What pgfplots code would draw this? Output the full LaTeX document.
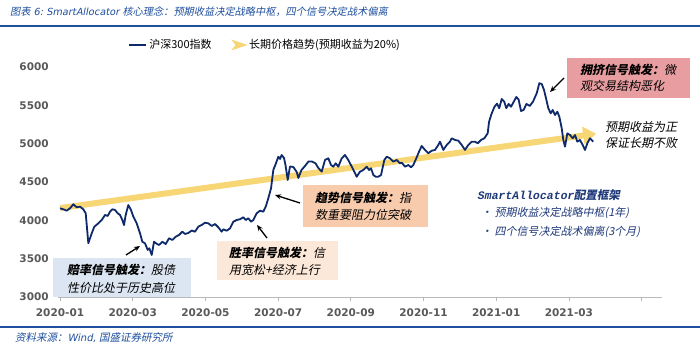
\documentclass[border=0pt]{standalone}
\usepackage{fontspec}
\usepackage{pgfplots}
\pgfplotsset{compat=1.18}
\usetikzlibrary{arrows.meta}
\newfontfamily\cjk{Noto Sans CJK SC}
\newfontfamily\cjkit{Noto Sans CJK SC}[FakeSlant=0.2]
\newfontfamily\tickfont{DejaVu Sans}
\newfontfamily\latit{DejaVu Sans}[FakeSlant=0.2]
\newfontfamily\monoit{Liberation Mono}[FakeSlant=0.2]
\definecolor{navy}{HTML}{0E2A6B}
\definecolor{trend}{HTML}{F7D676}
\definecolor{titleblue}{HTML}{1E4F9E}
\definecolor{tickgray}{HTML}{595959}
\definecolor{boxa}{HTML}{DCE6F2}
\definecolor{boxb}{HTML}{FCE8D8}
\definecolor{boxc}{HTML}{F8CBAD}
\definecolor{boxd}{HTML}{E89EA0}
\definecolor{framecol}{HTML}{1F3A7A}
\pgfplotstableread{
m v
0 4157
0.091 4144
0.184 4126
0.275 4157
0.366 4209
0.459 4170
0.550 4178
0.641 4144
0.707 4092
0.779 3700
0.872 3831
0.944 3917
1.054 3961
1.147 4004
1.238 4070
1.312 4057
1.376 4113
1.439 4144
1.513 4135
1.587 4092
1.651 4070
1.714 4004
1.761 3939
1.807 4070
1.879 4200
1.953 4135
2.017 4048
2.110 3961
2.201 3831
2.264 3721
2.338 3700
2.413 3613
2.457 3635
2.523 3548
2.586 3721
2.641 3700
2.724 3678
2.814 3721
2.908 3691
2.999 3766
3.089 3744
3.183 3787
3.274 3809
3.365 3852
3.439 3822
3.530 3835
3.623 3867
3.714 3852
3.805 3917
3.898 3939
3.989 3969
4.080 3961
4.173 3926
4.264 3952
4.355 3909
4.448 3852
4.492 3883
4.586 3865
4.677 3896
4.768 3982
4.861 4004
4.952 4014
5.043 4040
5.109 4004
5.180 4027
5.254 3982
5.318 4004
5.411 4092
5.502 4126
5.593 4113
5.659 4178
5.731 4288
5.805 4418
5.868 4657
5.934 4735
6.006 4830
6.052 4800
6.097 4852
6.162 4813
6.203 4722
6.264 4526
6.327 4702
6.418 4696
6.512 4631
6.556 4552
6.644 4657
6.740 4709
6.836 4768
6.925 4768
7.029 4744
7.106 4683
7.199 4635
7.290 4787
7.381 4809
7.455 4722
7.519 4700
7.585 4744
7.656 4700
7.750 4809
7.840 4852
7.931 4787
8.025 4700
8.116 4614
8.162 4569
8.253 4635
8.344 4657
8.437 4700
8.501 4657
8.556 4679
8.619 4591
8.685 4569
8.757 4569
8.831 4591
8.922 4787
8.988 4830
9.078 4809
9.169 4765
9.263 4787
9.353 4744
9.400 4752
9.491 4700
9.582 4722
9.656 4692
9.719 4722
9.813 4822
9.876 4895
9.950 4970
10.041 4918
10.132 4875
10.226 4908
10.316 4918
10.407 4983
10.454 5026
10.545 4918
10.638 4983
10.729 5026
10.776 5070
10.867 5048
10.957 5039
11.051 4983
11.142 4918
11.233 4983
11.326 5026
11.417 5026
11.491 5005
11.582 5048
11.673 5070
11.766 5135
11.802 5283
11.870 5387
11.953 5482
12.022 5522
12.083 5462
12.151 5583
12.220 5548
12.278 5462
12.341 5518
12.407 5482
12.484 5548
12.553 5609
12.616 5576
12.682 5426
12.752 5439
12.832 5518
12.923 5492
13.012 5548
13.114 5657
13.186 5788
13.252 5779
13.315 5700
13.370 5592
13.433 5462
13.499 5396
13.554 5439
13.618 5374
13.681 5417
13.736 5352
13.802 5201
13.846 5048
13.893 4961
13.956 5135
14.030 5113
14.105 5070
14.168 5113
14.231 5026
14.305 5048
14.380 4983
14.443 4918
14.506 5005
14.580 5070
14.671 5026
}\hs
\begin{document}
\begin{tikzpicture}
\fill[white] (0pt,0pt) rectangle (700pt,347pt);
\begin{axis}[
  at={(58.2pt,50pt)}, anchor=south west, scale only axis,
  width=603.4pt, height=230pt,
  xmin=-0.05, xmax=16.55, ymin=3000, ymax=6000,
  axis x line*=bottom, axis y line*=left,
  x axis line style={draw=gray!55, line width=0.8pt},
  y axis line style={draw=none},
  ytick={3000,3500,...,6000},
  xtick={0,2,...,16},
  xticklabels={2020-01,2020-03,2020-05,2020-07,2020-09,2020-11,2021-01,2021-03,},
  tick align=outside, major tick length=4pt,
  xtick style={draw=gray!55, line width=0.8pt},
  ytick style={draw=none},
  /pgf/number format/assume math mode=true,
  /pgf/number format/set thousands separator={},
  xticklabel style={font=\tickfont\bfseries\fontsize{10.5}{12}\selectfont, text=tickgray, yshift=-4.5pt},
  yticklabel style={font=\tickfont\bfseries\fontsize{10.5}{12}\selectfont, text=tickgray, xshift=-2pt},
  clip=false,
  legend style={at={(0.3427,1.0957)}, anchor=center, draw=none, fill=none,
    legend columns=2, font=\cjk\fontsize{11}{13}\selectfont,
    /tikz/every even column/.append style={column sep=18pt}},
  legend cell align=left,
]
\addlegendimage{navy, line width=2.2pt}
\addlegendentry{沪深300指数}
\addlegendimage{legend image code/.code={\fill[trend] (0pt,-5pt) -- (15pt,0pt) -- (0pt,5pt) -- (4pt,0pt) -- cycle;}}
\addlegendentry{长期价格趋势(预期收益为20\%)}
\addplot[trend, line width=6pt, -{Triangle[length=13pt,width=17pt]}, forget plot] coordinates {(0,4160) (14.75,5130)};
\addplot[navy, line width=1.8pt, line join=round, forget plot] table[x=m,y=v] {\hs};
\end{axis}
\begin{scope}[x=1pt,y=1pt]
% title and rules
\node[anchor=west, inner sep=0, text=titleblue] at (10,335) {\cjkit\fontsize{10.2}{12}\selectfont 图表{\latit\fontsize{9.8}{12}\selectfont\ 6:\ SmartAllocator\ }核心理念：预期收益决定战略中枢，四个信号决定战术偏离};
\draw[titleblue, line width=1.5] (0,321) -- (700,321);
\draw[titleblue, line width=1.5] (0,20) -- (700,20);
\node[anchor=west, inner sep=0, text=titleblue] at (15,9) {\cjkit\fontsize{10.5}{12}\selectfont 资料来源：{\latit\fontsize{10}{12}\selectfont Wind,\ }国盛证券研究所};
% annotation boxes
\fill[boxa] (53,89) rectangle (191,50);
\node[anchor=west, inner sep=0] at (67,77) {\cjkit\fontsize{12}{14}\selectfont{\bfseries 赔率信号触发：}股债};
\node[anchor=west, inner sep=0] at (67,59) {\cjkit\fontsize{12}{14}\selectfont 性价比处于历史高位};
\fill[boxb] (217,106) rectangle (338,67);
\node[anchor=west, inner sep=0] at (229,94) {\cjkit\fontsize{12}{14}\selectfont{\bfseries 胜率信号触发：}信};
\node[anchor=west, inner sep=0] at (229,77) {\cjkit\fontsize{12}{14}\selectfont 用宽松+经济上行};
\fill[boxc] (303,162) rectangle (428,120);
\node[anchor=west, inner sep=0] at (315,149) {\cjkit\fontsize{12}{14}\selectfont{\bfseries 趋势信号触发：}指};
\node[anchor=west, inner sep=0] at (315,132) {\cjkit\fontsize{12}{14}\selectfont 数重要阻力位突破};
\fill[boxd] (567,289) rectangle (690,249);
\node[anchor=west, inner sep=0] at (580,277) {\cjkit\fontsize{12}{14}\selectfont{\bfseries 拥挤信号触发：}微};
\node[anchor=west, inner sep=0] at (580,261) {\cjkit\fontsize{12}{14}\selectfont 观交易结构恶化};
\node[anchor=west, inner sep=0] at (605,220) {\cjkit\fontsize{12}{14}\selectfont 预期收益为正};
\node[anchor=west, inner sep=0] at (605,204) {\cjkit\fontsize{12}{14}\selectfont 保证长期不败};
\node[anchor=west, inner sep=0, text=framecol] at (477,152) {{\monoit\bfseries\fontsize{11.5}{13}\selectfont SmartAllocator}{\cjkit\bfseries\fontsize{11.5}{13}\selectfont 配置框架}};
\node[anchor=west, inner sep=0, text=framecol] at (481,134) {\cjkit\fontsize{11}{13}\selectfont • 预期收益决定战略中枢(1年)};
\node[anchor=west, inner sep=0, text=framecol] at (481,115) {\cjkit\fontsize{11}{13}\selectfont • 四个信号决定战术偏离(3个月)};
% arrows
\draw[black, line width=1.3pt, -{Stealth[length=6pt,width=5pt]}] (126,92) -- (140,101);
\draw[black, line width=1.3pt, -{Stealth[length=6pt,width=5pt]}] (267,109) -- (257,122);
\draw[black, line width=1.3pt, -{Stealth[length=6pt,width=5pt]}] (300,144) -- (275,152);
\draw[black, line width=1.3pt, -{Stealth[length=6pt,width=5pt]}] (564,269) -- (550,255);
\end{scope}
\pgfresetboundingbox
\path (0pt,0pt) rectangle (700pt,347pt);
\end{tikzpicture}
\end{document}
